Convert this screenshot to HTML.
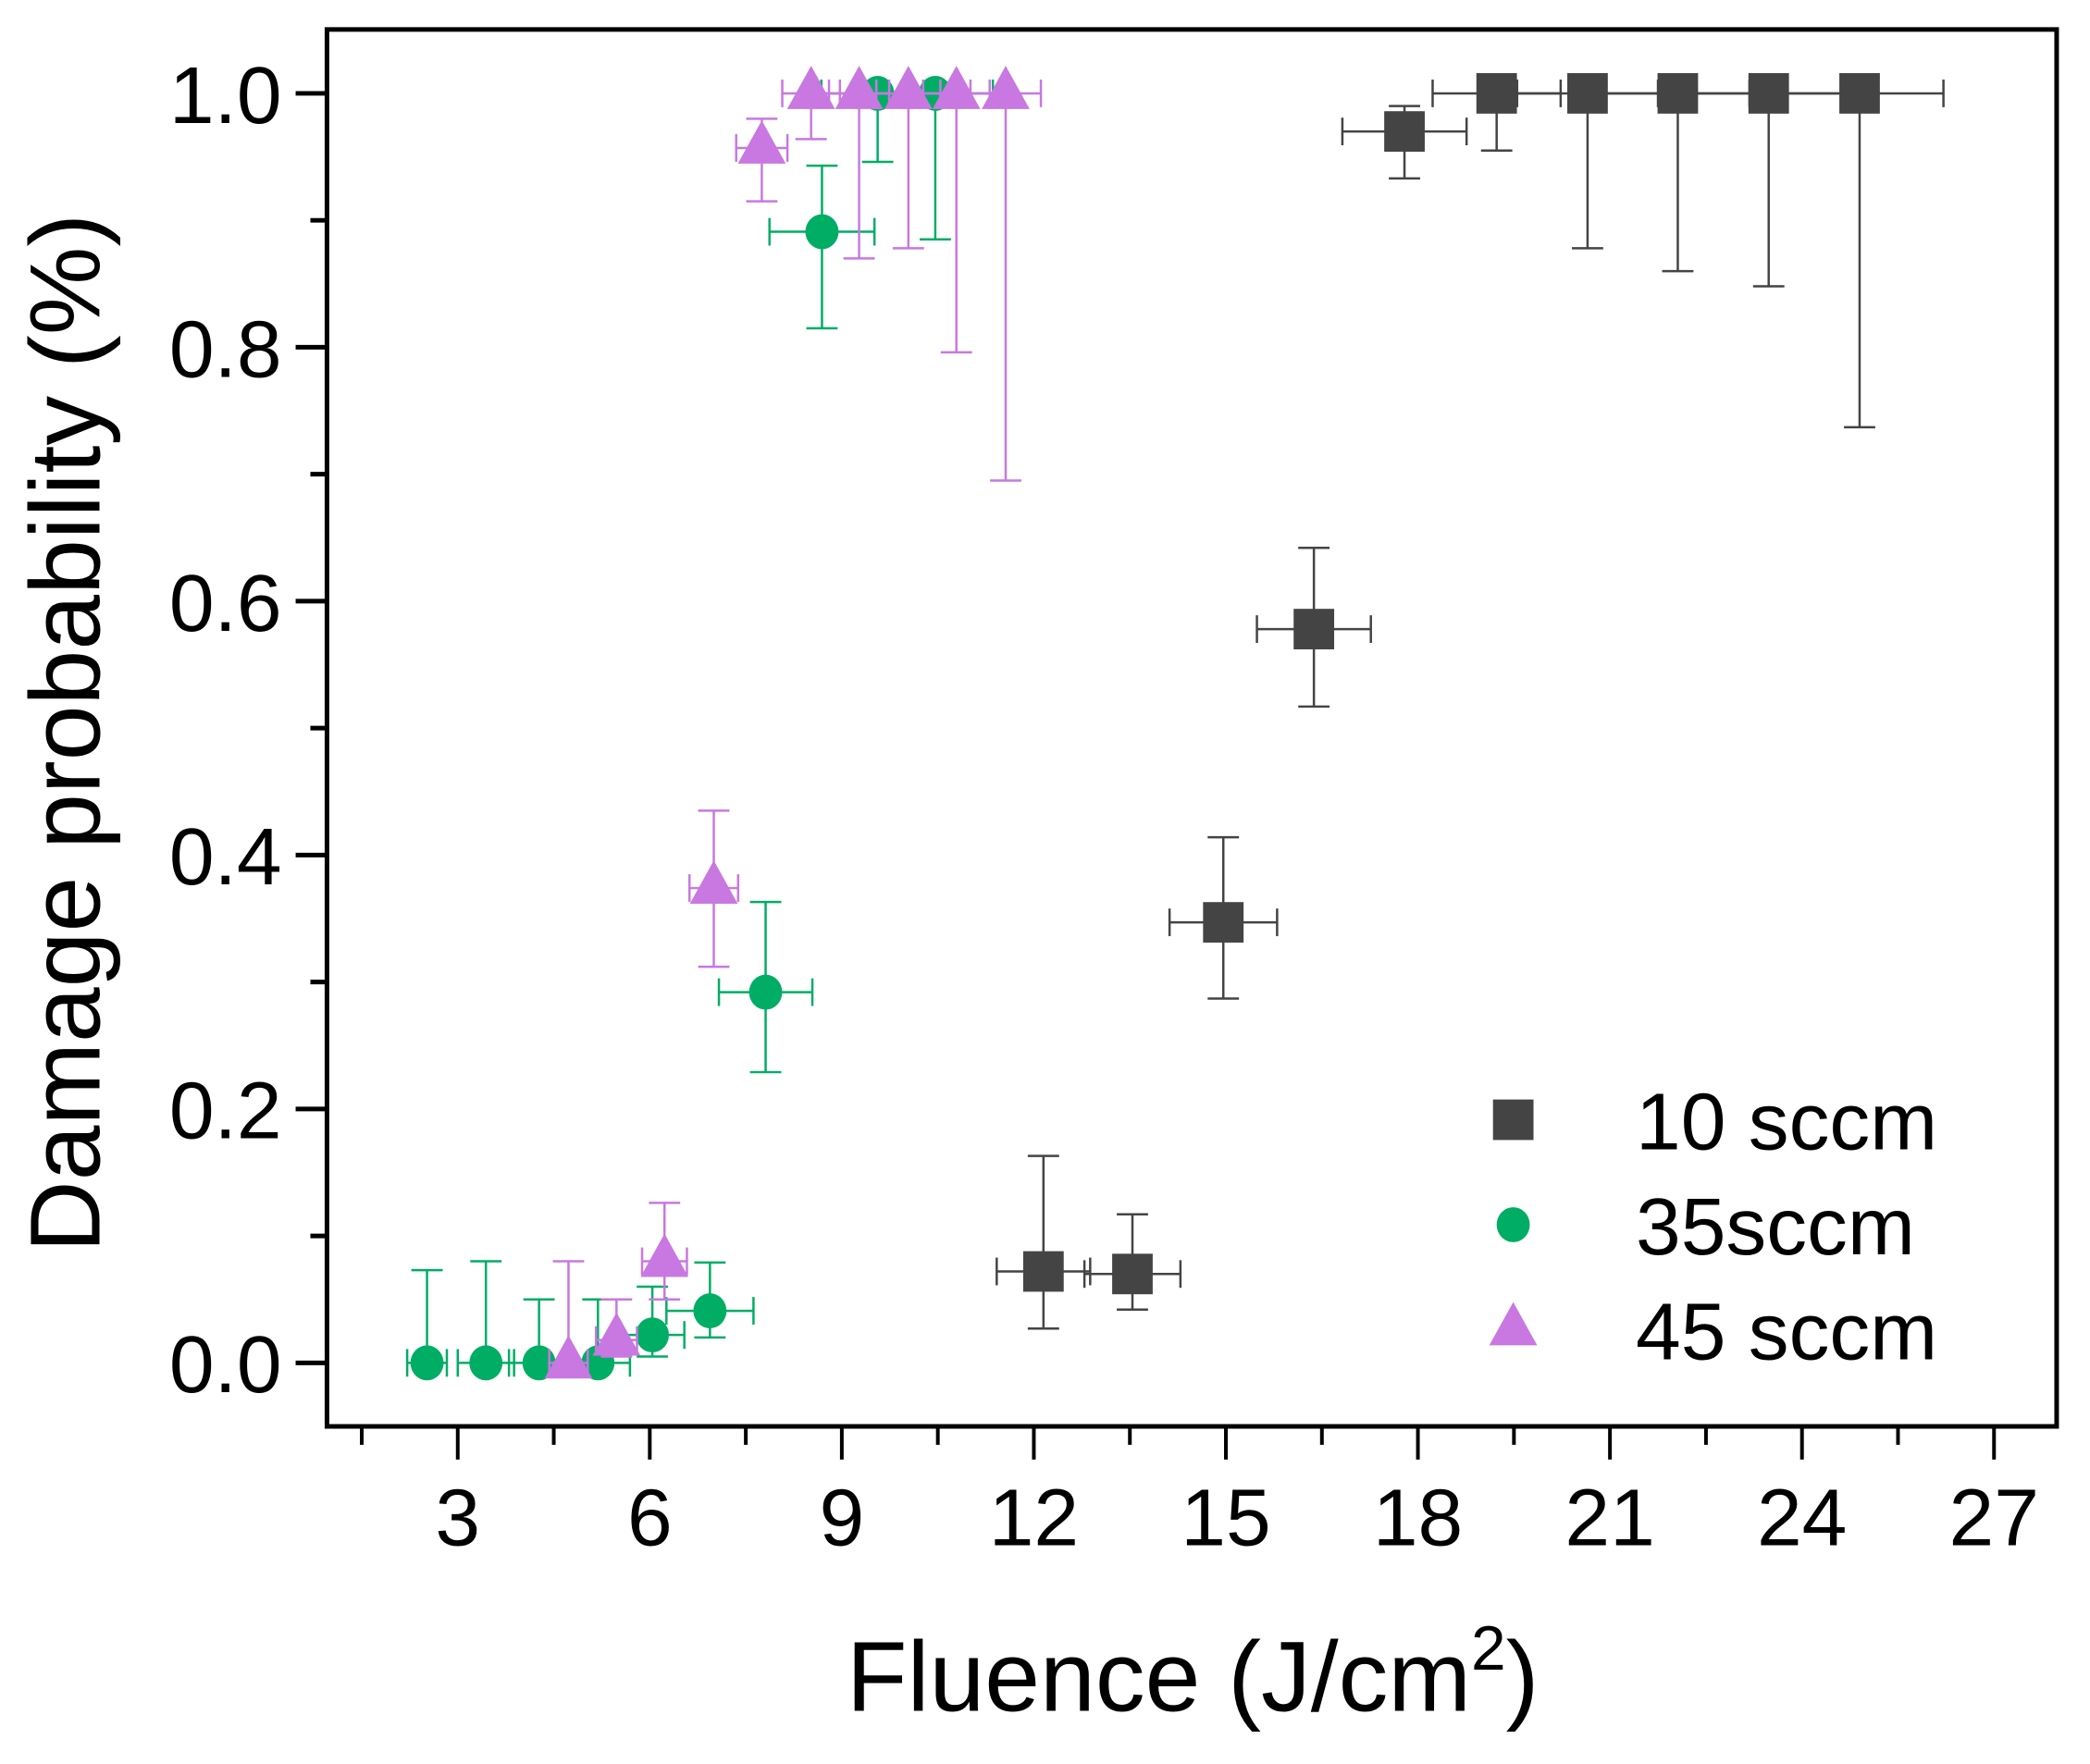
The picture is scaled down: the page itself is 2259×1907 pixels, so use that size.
<!DOCTYPE html>
<html><head><meta charset="utf-8"><style>
html,body{margin:0;padding:0;background:#fff}
svg{display:block;font-family:"Liberation Sans",Arial,sans-serif}
</style></head><body>
<svg id="chart" width="2259" height="1907" viewBox="0 0 2259 1907" xmlns="http://www.w3.org/2000/svg">
<rect x="0" y="0" width="2259" height="1907" fill="#fff"/>
<g transform="scale(0.9955)">
<g id="marks"></g>
<rect x="355" y="32" width="1878" height="1517" fill="none" stroke="#000" stroke-width="5"/>
<g id="axes"></g>
<text x="1295" y="1858" font-size="108" text-anchor="middle">Fluence (J/cm<tspan dy="-45" font-size="68">2</tspan><tspan dy="45">)</tspan></text>
<text transform="translate(108,796) rotate(-90)" font-size="108" text-anchor="middle">Damage probability (%)</text>
<g id="legend"></g>
</g>
</svg>
<script>
// Data
const s10x = [12.15, 13.54, 14.96, 16.375, 17.79, 19.23, 20.65, 22.06, 23.48, 24.9];
const s10y = [0.072, 0.07, 0.347, 0.578, 0.97, 1.0, 1.0, 1.0, 1.0, 1.0];
const s10hi = [0.163, 0.117, 0.414, 0.642, 0.99, 1.0, 1.0, 1.0, 1.0, 1.0];
const s10lo = [0.027, 0.042, 0.287, 0.517, 0.933, 0.955, 0.878, 0.86, 0.848, 0.737];
const s10xe = [0.73, 0.75, 0.84, 0.89, 0.97, 1.0, 1.1, 1.12, 1.17, 1.31];

const s35x = [2.52, 3.44, 4.27, 5.19, 6.04, 6.94, 7.81, 8.69, 9.56, 10.46];
const s35y = [0, 0, 0, 0, 0.022, 0.041, 0.292, 0.891, 1.0, 1.0];
const s35hi = [0.073, 0.08, 0.05, 0.05, 0.06, 0.079, 0.363, 0.943, 1.0, 1.0];
const s35lo = [0, 0, 0, 0, 0.005, 0.02, 0.229, 0.815, 0.946, 0.885];
const s35xe = [0.31, 0.44, 0.47, 0.5, 0.5, 0.68, 0.73, 0.82, 0.88, 0.9];

const s45x = [4.73, 5.48, 6.23, 7.0, 7.75, 8.52, 9.27, 10.04, 10.79, 11.56];
const s45y = [0.0, 0.018, 0.08, 0.374, 0.957, 1.0, 1.0, 1.0, 1.0, 1.0];
const s45hi = [0.08, 0.05, 0.126, 0.435, 0.98, 1.0, 1.0, 1.0, 1.0, 1.0];
const s45lo = [0, 0.005, 0.05, 0.312, 0.915, 0.964, 0.87, 0.878, 0.796, 0.695];
const s45xe = [0.3, 0.32, 0.35, 0.38, 0.4, 0.45, 0.47, 0.5, 0.52, 0.55];

const xTicks = [3, 6, 9, 12, 15, 18, 21, 24, 27];
const yTicks = [0.0, 0.2, 0.4, 0.6, 0.8, 1.0];
const legendLabels = ["10 sccm", "35sccm", "45 sccm"];

const NS = "http://www.w3.org/2000/svg";
function X(v){ return 497 + (v - 3) * (2165 - 497) / 24; }
function Y(v){ return 1480 - v * (1480 - 101.4); }
function mk(tag, attrs, parent){
  const e = document.createElementNS(NS, tag);
  for (const k in attrs) e.setAttribute(k, attrs[k]);
  parent.appendChild(e);
  return e;
}
const marks = document.getElementById("marks");
const axes = document.getElementById("axes");
const legend = document.getElementById("legend");

function marker(type, cx, cy, color, parent){
  let e;
  if (type === "square") {
    e = mk("rect", {x: cx - 22, y: cy - 22, width: 44, height: 44, fill: color}, parent);
  } else if (type === "circle") {
    e = mk("ellipse", {cx: cx, cy: cy, rx: 18, ry: 19, fill: color}, parent);
  } else {
    e = mk("polygon", {points: (cx) + "," + (cy - 30) + " " + (cx - 26) + "," + (cy + 17) + " " + (cx + 26) + "," + (cy + 17), fill: color}, parent);
  }
  return e;
}

function drawSeries(name, xs, ys, hi, lo, xe, color, type){
  const g = mk("g", {}, marks);
  
  
  for (let i = 0; i < xs.length; i++) {
    const cx = X(xs[i]), cy = Y(ys[i]);
    const eb = mk("g", {stroke: color, "stroke-width": 2.5, fill: "none"}, g);
    
    
    mk("line", {x1: cx, y1: Y(hi[i]), x2: cx, y2: Y(lo[i])}, eb);
    mk("line", {x1: cx - 17, y1: Y(hi[i]), x2: cx + 17, y2: Y(hi[i])}, eb);
    mk("line", {x1: cx - 17, y1: Y(lo[i]), x2: cx + 17, y2: Y(lo[i])}, eb);
    const xl = X(xs[i] - xe[i]), xr = X(xs[i] + xe[i]);
    mk("line", {x1: xl, y1: cy, x2: xr, y2: cy}, eb);
    mk("line", {x1: xl, y1: cy - 15, x2: xl, y2: cy + 15}, eb);
    mk("line", {x1: xr, y1: cy - 15, x2: xr, y2: cy + 15}, eb);
    const m = marker(type, cx, cy, color, g);
    
    
  }
}
drawSeries("sccm10", s10x, s10y, s10hi, s10lo, s10xe, "#444444", "square");
drawSeries("sccm35", s35x, s35y, s35hi, s35lo, s35xe, "#00ad65", "circle");
drawSeries("sccm45", s45x, s45y, s45hi, s45lo, s45xe, "#c878e0", "triangle");

// X axis ticks
for (let v = 1.5; v <= 27.01; v += 1.5) {
  const major = Math.abs(v / 3 - Math.round(v / 3)) < 1e-6;
  const t = mk("line", {x1: X(v), y1: 1549, x2: X(v), y2: 1549 + (major ? 36 : 20), stroke: "#000", "stroke-width": 4}, axes);
  
  
}
xTicks.forEach(v => {
  const t = mk("text", {x: X(v), y: 1678, "font-size": 88, "text-anchor": "middle"}, axes);
  t.textContent = String(v);
  
  
});
// Y axis ticks
for (let v = 0; v <= 1.0001; v += 0.1) {
  const major = Math.round(v * 10) % 2 === 0;
  const t = mk("line", {x1: 355, y1: Y(v), x2: 355 - (major ? 34 : 18), y2: Y(v), stroke: "#000", "stroke-width": 5}, axes);
  
  
}
yTicks.forEach(v => {
  const t = mk("text", {x: 306, y: Y(v) + 32, "font-size": 88, "text-anchor": "end"}, axes);
  t.textContent = v.toFixed(1);
  
  
});
// Legend
const legColors = ["#444444", "#00ad65", "#c878e0"];
const legTypes = ["square", "circle", "triangle"];
const legY = [1216, 1330, 1444];
legendLabels.forEach((lab, i) => {
  const g = mk("g", {}, legend);
  
  
  const m = marker(legTypes[i], 1643, legY[i], legColors[i], g);
  
  
  const t = mk("text", {x: 1776, y: legY[i] + 32, "font-size": 88}, g);
  t.textContent = lab;
  
  
});
</script>
</body></html>
